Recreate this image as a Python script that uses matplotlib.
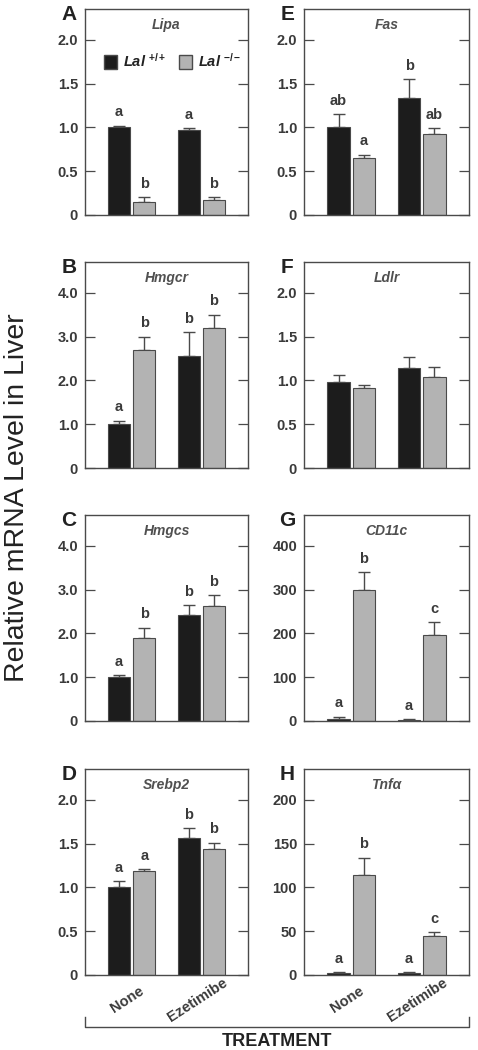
import numpy as np
import matplotlib
matplotlib.use("Agg")
import matplotlib.pyplot as plt
from matplotlib.patches import Patch
from matplotlib.lines import Line2D

plt.rcParams['font.family'] = ['Liberation Sans', 'DejaVu Sans']
plt.rcParams['mathtext.fontset'] = 'custom'
plt.rcParams['mathtext.it'] = 'Liberation Sans:italic:bold'
plt.rcParams['mathtext.rm'] = 'Liberation Sans:bold'
plt.rcParams['mathtext.bf'] = 'Liberation Sans:bold'

# treatment groups
groups = ['None', 'Ezetimibe']

# panels in order A-H
letters = ['A', 'B', 'C', 'D', 'E', 'F', 'G', 'H']
genes = ['Lipa', 'Hmgcr', 'Hmgcs', 'Srebp2', 'Fas', 'Ldlr', 'CD11c', 'Tnfα']
tick_max = [2.0, 4.0, 4.0, 2.0, 2.0, 2.0, 400, 200]
tick_step = [0.5, 1.0, 1.0, 0.5, 0.5, 0.5, 100, 50]

# Lal+/+ (black) and Lal-/- (gray): means and SEM, [None, Ezetimibe]
wt_mean = [[1.00, 0.97], [1.00, 2.55], [1.00, 2.42], [1.00, 1.56],
           [1.00, 1.33], [0.98, 1.14], [5, 2], [2, 2]]
wt_err = [[0.02, 0.02], [0.08, 0.55], [0.05, 0.22], [0.07, 0.12],
          [0.15, 0.22], [0.08, 0.13], [5, 2], [1, 1]]
ko_mean = [[0.15, 0.17], [2.70, 3.20], [1.90, 2.62], [1.19, 1.44],
           [0.65, 0.92], [0.91, 1.04], [300, 196], [114, 45]]
ko_err = [[0.05, 0.03], [0.30, 0.30], [0.23, 0.25], [0.02, 0.07],
          [0.04, 0.07], [0.04, 0.11], [40, 30], [20, 4]]

# significance letters: [wt None, ko None, wt Eze, ko Eze]
sig = [['a', 'b', 'a', 'b'], ['a', 'b', 'b', 'b'], ['a', 'b', 'b', 'b'],
       ['a', 'a', 'b', 'b'], ['ab', 'a', 'b', 'ab'], ['', '', '', ''],
       ['a', 'b', 'a', 'c'], ['a', 'b', 'a', 'c']]

black = '#1c1c1c'
gray = '#b3b3b3'
edge = '#4a4a4a'
txt = '#3a3a3a'

W, H = 478, 1050
fig = plt.figure(figsize=(W / 100, H / 100), dpi=100)

col_x = [85, 304]
col_w = [163, 165]
row_top = [9, 262, 515, 769]
ax_h = 206

x = np.arange(len(groups))
bw = 0.32
off = 0.18

axes = []
for i in range(8):
    col, row = divmod(i, 4)
    left = col_x[col] / W
    bottom = 1 - (row_top[row] + ax_h) / H
    ax = fig.add_axes([left, bottom, col_w[col] / W, ax_h / H])
    axes.append(ax)
    ymax = tick_max[i] * 1.175

    ax.bar(x - off, wt_mean[i], bw, color=black, edgecolor=edge, linewidth=0.8, zorder=2)
    ax.bar(x + off, ko_mean[i], bw, color=gray, edgecolor=edge, linewidth=0.8, zorder=2)
    ax.errorbar(x - off, wt_mean[i], yerr=[np.zeros(2), wt_err[i]], fmt='none',
                ecolor=edge, elinewidth=1, capsize=4, capthick=1, zorder=1)
    ax.errorbar(x + off, ko_mean[i], yerr=[np.zeros(2), ko_err[i]], fmt='none',
                ecolor=edge, elinewidth=1, capsize=4, capthick=1, zorder=1)

    # significance letters
    tops = [wt_mean[i][0] + wt_err[i][0], ko_mean[i][0] + ko_err[i][0],
            wt_mean[i][1] + wt_err[i][1], ko_mean[i][1] + ko_err[i][1]]
    xs = [x[0] - off, x[0] + off, x[1] - off, x[1] + off]
    for xx, tt, s in zip(xs, tops, sig[i]):
        if s:
            ax.text(xx, tt + 0.03 * ymax, s, ha='center', va='bottom',
                    fontsize=10.5, fontweight='bold', color=txt)

    ax.set_xlim(-0.67, 1.67)
    ax.set_ylim(0, ymax)
    ticks = np.arange(0, tick_max[i] + tick_step[i] / 2, tick_step[i])
    ax.set_yticks(ticks)
    if tick_max[i] >= 100:
        labels = ['%d' % t for t in ticks]
    else:
        labels = ['0' if t == 0 else '%.1f' % t for t in ticks]
    ax.set_yticklabels(labels, fontsize=10.5, fontweight='bold', color=txt)
    ax.tick_params(axis='y', direction='in', length=7, width=0.9, color=edge,
                   right=True, pad=5)
    ax.tick_params(axis='x', length=0)
    for sp in ax.spines.values():
        sp.set_color(edge)
        sp.set_linewidth(1.0)

    if row == 3:
        ax.set_xticks(x - 0.06)
        ax.set_xticklabels(groups, rotation=33, fontsize=10.5, fontweight='bold',
                           color=txt, ha='center', va='center', rotation_mode='anchor')
        ax.tick_params(axis='x', pad=18)
    else:
        ax.set_xticks([])

    ax.text(0.5, 0.92, genes[i], transform=ax.transAxes, ha='center', va='center',
            fontsize=10, fontstyle='italic', fontweight='bold', color='#505050')
    ax.text(-0.1, 0.975, letters[i], transform=ax.transAxes, ha='center', va='center',
            fontsize=15, fontweight='bold', color='#222222')

# legend in panel A
handles = [Patch(facecolor=black, edgecolor=edge), Patch(facecolor=gray, edgecolor=edge)]
axes[0].legend(handles, [r'$\mathit{Lal}^{\ \mathrm{+/+}}$', r'$\mathit{Lal}^{\ \mathrm{-/-}}$'],
               loc='upper left', bbox_to_anchor=(0.08, 0.82), ncol=2, frameon=False,
               handlelength=0.9, handleheight=1.1, handletextpad=0.4, columnspacing=0.9,
               borderaxespad=0, fontsize=10.5, labelcolor='#222222')

# y label
fig.text(0.036, 0.526, 'Relative mRNA Level in Liver', rotation=90, ha='center',
         va='center', fontsize=20.5, color='#222222')

# treatment bracket below bottom panels
x0 = axes[3].get_position().x0
x1 = axes[7].get_position().x1
yb = 1 - 1027 / H
yt = 1 - 1017 / H
fig.add_artist(Line2D([x0, x0, x1, x1], [yt, yb, yb, yt], color=edge, linewidth=1))
fig.text((x0 + x1) / 2, 1 - 1041 / H, 'TREATMENT', ha='center', va='center',
         fontsize=13, fontweight='bold', color='#222222')

fig.savefig('out.png', dpi=100)
